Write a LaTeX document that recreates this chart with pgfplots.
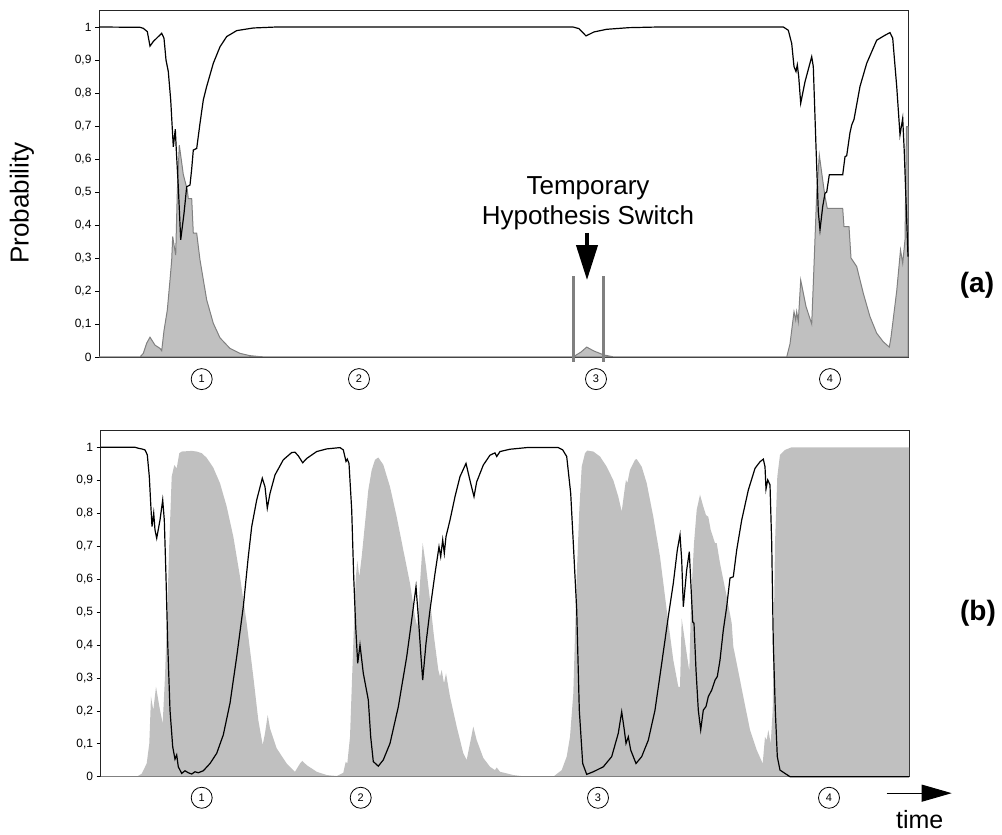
\documentclass[border=0pt]{standalone}
\usepackage{fontspec}
\setmainfont{Liberation Sans}
\usepackage{pgfplots}
\pgfplotsset{compat=1.18}
\usetikzlibrary{arrows.meta}

\definecolor{areafill}{RGB}{192,192,192}
\definecolor{arealine}{RGB}{128,128,128}

\pgfplotsset{
  panel/.style={
    scale only axis,
    anchor=south west,
    xmin=0, ymin=0, ymax=1.05,
    xtick=\empty,
    ytick={0,0.1,...,1},
    ytick pos=left,
    tick align=outside,
    major tick length=4pt,
    tick style={black, line width=0.6pt},
    axis line style={black!85, line width=0.8pt},
    /pgf/number format/assume math mode=true,
    /pgf/number format/use comma,
    yticklabel style={font=\fontsize{12}{14}\selectfont},
    clip=false,
  },
}
\tikzset{
  circ/.style={circle, draw, line width=0.8pt, minimum size=21pt, inner sep=0pt,
    font=\fontsize{11}{13}\selectfont},
}

\begin{document}
\begin{tikzpicture}
\useasboundingbox (0,0) rectangle (1002pt,835pt);

% ---- panel (a)
\begin{axis}[panel, at={(99pt,478pt)}, width=809pt, height=346.5pt, xmax=809]
  \addplot[fill=areafill, draw=arealine, line width=1pt] coordinates {
    (0,0) (41,0) (44.3,0.011) (47.7,0.042) (51,0.06) (56,0.036) (61,0.026) (62.7,0.019)
    (65,0.08) (68.3,0.142) (71,0.233) (72.7,0.294) (73.7,0.365) (75.3,0.334) (76.7,0.309)
    (78.3,0.5) (80.3,0.642) (84.3,0.553) (88.3,0.506) (89.3,0.48) (92.7,0.48) (94.3,0.375)
    (97.7,0.375) (101,0.294) (107.7,0.173) (114.3,0.102) (121,0.058) (131,0.026) (141,0.011)
    (151,0.004) (161,0.001) (170,0) (474,0) (482,0.015) (487.7,0.03) (495,0.018) (505,0.006)
    (515,0) (687.7,0) (691,0.04) (695,0.137) (696.7,0.112) (697.7,0.137) (699.3,0.107)
    (701.7,0.233) (707,0.153) (712.7,0.1) (714.7,0.253) (717.7,0.496) (720.3,0.612)
    (723.7,0.536) (726,0.486) (728.3,0.45) (743.7,0.45) (745,0.395) (750,0.395) (752,0.3)
    (757.7,0.274) (764.3,0.193) (771,0.122) (777.7,0.072) (784.3,0.046) (790.3,0.03)
    (792,0.06) (797.7,0.2) (801.5,0.324) (803.7,0.284) (806,0.355) (807.5,0.698) (809,0.698)
  } \closedcycle;
  \addplot[black, line width=1.2pt] coordinates {
    (0,1.0) (41,0.999) (44.3,0.996) (48.3,0.986) (51,0.942) (54.3,0.956) (62.7,0.981)
    (65,0.966) (67,0.9) (69.3,0.865) (71.7,0.779) (74.3,0.637) (76.3,0.69) (77.3,0.627)
    (79.3,0.516) (81.7,0.355) (85,0.435) (87.7,0.516) (91,0.521) (92.7,0.57) (94.3,0.627)
    (97.7,0.632) (101,0.708) (104.3,0.779) (107.7,0.82) (114.3,0.89) (121,0.94)
    (127.7,0.971) (137.7,0.989) (154.3,0.997) (177.7,1.0) (474,1.0) (480,0.995)
    (487,0.973) (495,0.985) (507.7,0.993) (530,0.998) (560,1.0) (684.3,1.0) (689.3,0.99)
    (692.7,0.95) (695,0.88) (697,0.865) (698.3,0.885) (699.7,0.85) (701.7,0.769) (706,0.834)
    (712.7,0.91) (714.3,0.88) (717,0.637) (719.3,0.44) (721,0.385) (723.7,0.456) (726,0.496)
    (727.7,0.5) (730.3,0.552) (743.7,0.552) (746,0.607) (747.7,0.61) (751,0.68)
    (752.7,0.703) (755,0.72) (761,0.82) (767.7,0.89) (777.7,0.96) (786,0.975) (791,0.983)
    (793.7,0.966) (797.7,0.82) (801,0.673) (803.7,0.723) (805.3,0.62) (807.7,0.415)
    (809,0.304)
  };
  % annotation
  \node[align=center, font=\fontsize{26}{30}\selectfont] at (axis cs:489,0.467)
    {Temporary\\Hypothesis Switch};
  \draw[line width=4pt, -{Triangle[length=35pt,width=21pt]}]
    (axis cs:488,0.376) -- (axis cs:488,0.233);
  \draw[arealine, line width=3pt] (axis cs:474,0.245) -- (axis cs:474,-0.015);
  \draw[arealine, line width=3pt] (axis cs:504,0.245) -- (axis cs:504,-0.015);
  % segment numbers
  \node[circ] at (axis cs:102.7,-0.067) {1};
  \node[circ] at (axis cs:260,-0.067) {2};
  \node[circ] at (axis cs:497,-0.067) {3};
  \node[circ] at (axis cs:731,-0.067) {4};
\end{axis}

% ---- panel (b)
\begin{axis}[panel, at={(100.7pt,58.3pt)}, width=808.3pt, height=345.9pt, xmax=808.3]
  \addplot[fill=areafill, draw=none] coordinates {
    (0,0) (36,0) (41,0.009) (46,0.04) (48.6,0.101) (50.3,0.243) (52.6,0.202) (55.3,0.273)
    (59.3,0.202) (62,0.162) (64.3,0.304) (66.6,0.506) (68.6,0.709) (71,0.911) (73.6,0.946)
    (76,0.936) (78.6,0.982) (81,0.987) (91,0.989) (96,0.987) (101,0.982) (106,0.968)
    (112.6,0.938) (119.3,0.891) (126,0.82) (132.6,0.729) (139.3,0.607) (146,0.466)
    (152.6,0.304) (157.6,0.172) (162,0.096) (164.3,0.132) (167,0.187) (169.3,0.147)
    (176,0.086) (186,0.04) (194.3,0.015) (199.3,0.04) (201.6,0.048) (206,0.035) (216,0.015)
    (226,0.005) (236,0.002) (242.6,0.012) (245,0.045) (246.6,0.04) (249.3,0.121)
    (252.6,0.405) (255,0.6) (256.6,0.656) (258.6,0.607) (261,0.668) (264.3,0.769)
    (267.6,0.87) (271,0.931) (274.3,0.962) (277.6,0.969) (282.6,0.947) (289.3,0.88)
    (296,0.789) (302.6,0.688) (309.3,0.587) (314.3,0.486) (316.6,0.455) (319.3,0.587)
    (322,0.709) (325.3,0.638) (329.3,0.536) (333.3,0.425) (337.6,0.324) (339.3,0.304)
    (341,0.324) (343.3,0.283) (345.3,0.314) (349.3,0.243) (356,0.152) (362.6,0.071)
    (366,0.051) (369.3,0.101) (372.6,0.152) (376,0.111) (382.6,0.057) (389.3,0.03)
    (394.3,0.02) (396,0.028) (399.3,0.015) (412.6,0.005) (426,0) (452.6,0) (461,0.02)
    (466,0.061) (469.3,0.121) (472.6,0.253) (476,0.607) (478.6,0.81) (481,0.941)
    (484.3,0.982) (486.6,0.99) (492.6,0.987) (499.3,0.972) (506,0.941) (512.6,0.9)
    (517.6,0.85) (521,0.805) (524.3,0.881) (525.3,0.901) (526.6,0.891) (529.3,0.931)
    (534.3,0.962) (536,0.964) (541,0.941) (546,0.891) (552.6,0.789) (559.3,0.668)
    (566,0.506) (572.6,0.354) (577.6,0.273) (579.3,0.273) (581,0.48) (588.6,0.319)
    (590.3,0.531) (593.3,0.709) (596,0.81) (599.3,0.856) (602.6,0.82) (605.3,0.794)
    (607.6,0.789) (610,0.749) (614.3,0.709) (616,0.709) (619.3,0.648) (626,0.547)
    (631,0.466) (632.6,0.395) (636,0.344) (642.6,0.243) (649.3,0.142) (656,0.081)
    (662,0.04) (664.3,0.121) (666,0.111) (667.6,0.142) (670,0.101) (672,0.202)
    (674.3,0.709) (676.6,0.911) (679.3,0.977) (684.3,0.992) (691,1.0) (808.3,1.0)
  } \closedcycle;
  \draw[arealine, line width=1.5pt] (axis cs:0,0) -- (axis cs:808.3,0);
  \addplot[black, line width=1.2pt] coordinates {
    (0,1.0) (34.3,1.0) (37.6,0.997) (41,0.995) (44.3,0.992) (46.6,0.977) (48.6,0.911)
    (50,0.83) (51.3,0.759) (53,0.8) (54.3,0.749) (56,0.724) (59.3,0.779) (62,0.84)
    (63.6,0.779) (65.3,0.607) (67,0.405) (69.3,0.202) (72,0.091) (74.3,0.053) (76,0.066)
    (77.6,0.03) (81,0.01) (84.3,0.018) (87.6,0.012) (91,0.008) (94.3,0.015) (97.6,0.012)
    (102.6,0.018) (109.3,0.04) (116,0.071) (122.6,0.127) (129.3,0.223) (136,0.364)
    (142.6,0.516) (147.6,0.668) (151,0.759) (156,0.84) (161.6,0.906) (164.3,0.88)
    (166.6,0.815) (169.3,0.86) (174.3,0.916) (182.6,0.962) (191,0.984) (194.3,0.985)
    (197.6,0.974) (202,0.953) (206,0.966) (216,0.987) (226,0.995) (239.3,0.999)
    (242.6,0.992) (245.3,0.957) (246.6,0.964) (248.3,0.951) (251,0.81) (253,0.607)
    (255,0.455) (257,0.344) (259.3,0.4) (262.6,0.314) (267.6,0.233) (270,0.121)
    (272.6,0.046) (277.6,0.032) (282.6,0.051) (289.3,0.101) (297.6,0.212) (306,0.364)
    (311,0.476) (315.3,0.577) (317.6,0.486) (320.3,0.364) (322,0.293) (325.3,0.405)
    (329.3,0.506) (334.3,0.617) (338.3,0.698) (340,0.668) (342,0.719) (343.6,0.678)
    (345.3,0.729) (349.3,0.779) (354.3,0.85) (359.3,0.911) (365.3,0.951) (370,0.89)
    (373.3,0.85) (376,0.895) (382.6,0.946) (389.3,0.976) (394.3,0.983) (396,0.972)
    (399.3,0.987) (409.3,0.994) (426,0.999) (457.6,0.999) (462,0.992) (466,0.972)
    (470,0.86) (472.6,0.709) (476,0.506) (478.6,0.202) (482,0.04) (486,0.007)
    (492.6,0.015) (502.6,0.03) (511,0.061) (517.6,0.132) (521,0.197) (523.6,0.142)
    (525.3,0.101) (527.6,0.121) (530,0.081) (535.3,0.04) (541,0.061) (547.6,0.111)
    (554.3,0.202) (561,0.344) (567.6,0.486) (572.6,0.587) (576.6,0.688) (579.3,0.734)
    (581,0.658) (582.6,0.516) (586,0.628) (588.6,0.683) (590.3,0.577) (592,0.47)
    (593.3,0.466) (595.3,0.324) (597.6,0.202) (600,0.142) (602.6,0.202) (605.3,0.213)
    (607.6,0.243) (611,0.263) (614.3,0.293) (616.6,0.304) (619.3,0.354) (622.6,0.445)
    (626,0.516) (629.3,0.603) (632.6,0.607) (636,0.688) (641,0.779) (647.6,0.87)
    (654.3,0.936) (659.3,0.956) (662.6,0.964) (664.3,0.941) (665.3,0.873) (667,0.901)
    (669.3,0.886) (671,0.709) (672.6,0.405) (674.6,0.202) (676.6,0.061) (679.3,0.02)
    (684.3,0.01) (689.3,0) (808.3,0)
  };
  \node[circ] at (axis cs:101,-0.064) {1};
  \node[circ] at (axis cs:260,-0.064) {2};
  \node[circ] at (axis cs:497.3,-0.064) {3};
  \node[circ] at (axis cs:728.3,-0.064) {4};
  \draw[line width=1pt, -{Triangle[length=30pt,width=17pt]}]
    (axis cs:786,-0.05) -- (axis cs:851,-0.05);
  \node[font=\fontsize{25}{28}\selectfont] at (axis cs:819,-0.131) {time};
\end{axis}

\node[rotate=90, font=\fontsize{26}{30}\selectfont] at (22pt,632pt) {Probability};
\node[font=\bfseries\fontsize{28}{32}\selectfont] at (977pt,550pt) {(a)};
\node[font=\bfseries\fontsize{28}{32}\selectfont] at (978pt,222pt) {(b)};
\end{tikzpicture}
\end{document}
